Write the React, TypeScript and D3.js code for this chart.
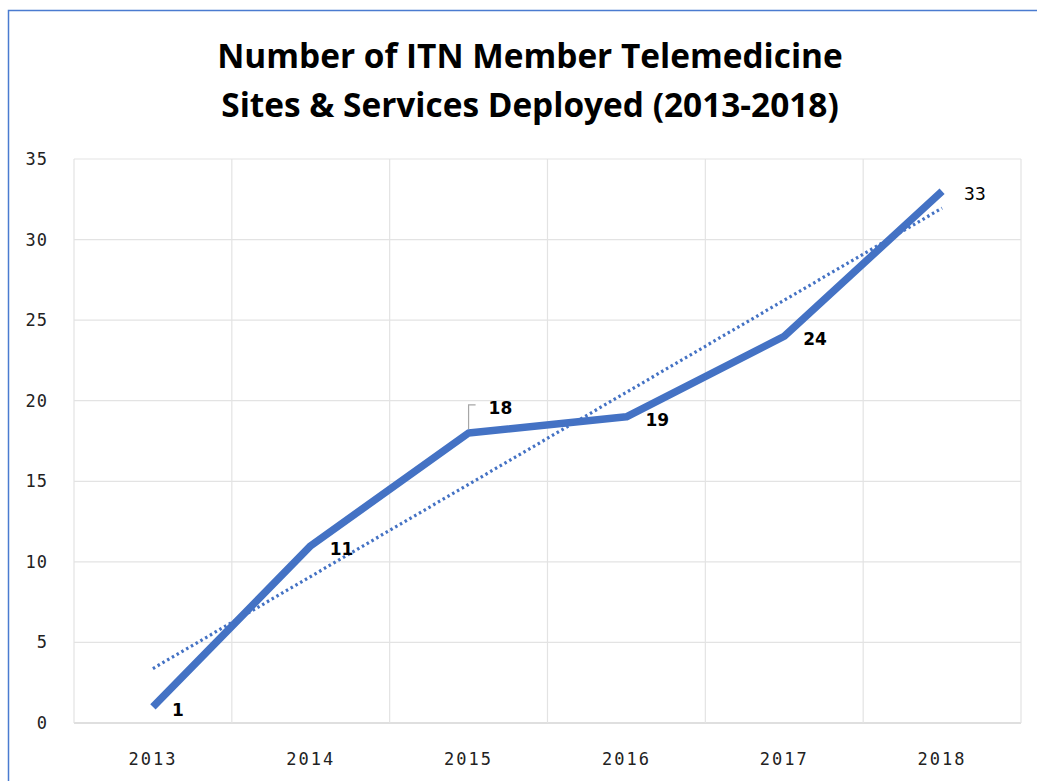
import React from "react";
import * as d3 from "d3";

const years = ["2013", "2014", "2015", "2016", "2017", "2018"];
const sites = [1, 11, 18, 19, 24, 33];
const yTicks = [0, 5, 10, 15, 20, 25, 30, 35];
const titleLines = ["Number of ITN Member Telemedicine", "Sites & Services Deployed (2013-2018)"];

export default function App() {
  const W = 1037, H = 781;
  const left = 74, right = 1021, top = 159, bottom = 723;
  const x = d3.scaleBand<string>().domain(years).range([left, right]);
  const cx = (d: string) => (x(d) as number) + x.bandwidth() / 2;
  const y = d3.scaleLinear().domain([0, 35]).range([bottom, top]);

  // linear trendline (least squares)
  const n = sites.length;
  const idx = sites.map((_, i) => i + 1);
  const mx = d3.mean(idx) as number;
  const my = d3.mean(sites) as number;
  const slope = d3.sum(idx.map((xi, i) => (xi - mx) * (sites[i] - my))) / d3.sum(idx.map((xi) => (xi - mx) ** 2));
  const icpt = my - slope * mx;
  const trend = [1, n].map((k) => ({ x: cx(years[k - 1]), y: y(icpt + slope * k) }));

  const line = d3.line<number>().x((_, i) => cx(years[i])).y((d) => y(d));

  const labelFont = "'DejaVu Sans', sans-serif";
  const tickFont = "'DejaVu Sans Mono', monospace";
  return (
    <svg width={W} height={H} style={{ position: "absolute", left: 0, top: 0, background: "#fff" }}>
      <rect x={8.5} y={10.5} width={W + 20} height={H + 20} fill="#fff" stroke="#4a7bd0" strokeWidth={1.5} />
      {titleLines.map((t, i) => (
        <text key={i} x={530} y={68 + i * 49} textAnchor="middle" fontFamily="'Open Sans', sans-serif" fontWeight="bold" fontSize={33.4} fill="#000">
          {t}
        </text>
      ))}
      {yTicks.map((t) => (
        <g key={t}>
          <line x1={left} x2={right} y1={y(t)} y2={y(t)} stroke={t === 0 ? "#d4d4d4" : "#e3e3e3"} strokeWidth={t === 0 ? 1.5 : 1.2} />
          <text x={48} y={y(t) + 6} textAnchor="end" fontFamily={tickFont} fontSize={17} letterSpacing={1} fill="#222">
            {t}
          </text>
        </g>
      ))}
      {years.map((yr) => (
        <line key={yr} x1={x(yr) as number} x2={x(yr) as number} y1={top} y2={bottom} stroke="#e3e3e3" strokeWidth={1.2} />
      ))}
      <line x1={right} x2={right} y1={top} y2={bottom} stroke="#e3e3e3" strokeWidth={1.2} />
      {years.map((yr) => (
        <text key={yr} x={cx(yr)} y={765} textAnchor="middle" fontFamily={tickFont} fontSize={17} letterSpacing={2} fill="#222">
          {yr}
        </text>
      ))}
      <path d={line(sites) as string} fill="none" stroke="#4472c4" strokeWidth={7.5} strokeLinejoin="round" strokeLinecap="butt" />
      <line x1={trend[0].x} y1={trend[0].y} x2={trend[1].x} y2={trend[1].y} stroke="#4472c4" strokeWidth={3.2} strokeDasharray="2.5,3" />
      {/* leader line for 2015 label */}
      <path d={`M${cx("2015")},${y(18) - 4} V${y(18) - 28} H${cx("2015") + 7}`} fill="none" stroke="#a6a6a6" strokeWidth={1.2} />
      {sites.map((v, i) => {
        const px = cx(years[i]);
        const py = y(v);
        const isLead = i === 2;
        const isLast = i === sites.length - 1;
        const lx = isLead ? px + 20 : px + (isLast ? 22 : 19);
        const ly = isLead ? py - 19 : py + 9;
        return (
          <text key={i} x={lx} y={ly} fontFamily={isLast ? tickFont : labelFont} fontWeight={isLast ? "normal" : "bold"} fontSize={isLast ? 18 : 17} fill="#000">
            {v}
          </text>
        );
      })}
    </svg>
  );
}
